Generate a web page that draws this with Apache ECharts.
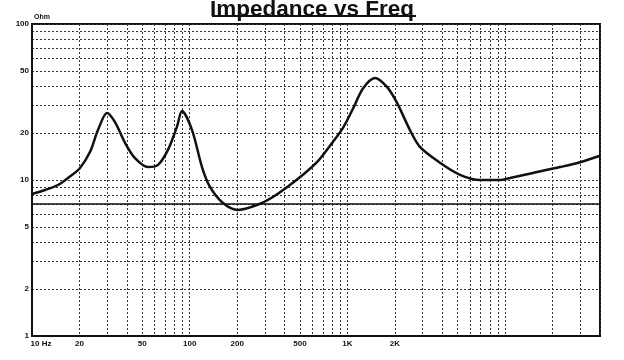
<!DOCTYPE html>
<html><head><meta charset="utf-8">
<script src="https://cdn.jsdelivr.net/npm/echarts@6/dist/echarts.min.js"></script>
<style>html,body{margin:0;padding:0;background:#fff}#c{width:624px;height:360px}</style>
</head><body><div id="c"></div>
<script>
const freqHz = [10,12.1,14.6,16.9,20.1,23.3,26.2,29.9,33.6,38.9,45,54.4,63,72.8,83,89.4,103.5,119.7,134.5,162.6,202,267,337,432,523,641,776,938,1085,1256,1496,1782,2065,2494,2884,3865,5176,6934,9290,10740,15030,22290,29850,40000];
const impedanceOhm = [8.13,8.63,9.29,10.3,11.9,15.1,20.9,26.9,23.5,17.3,13.8,12.1,12.5,15.6,21.9,27.7,20.9,12.1,9.02,7.12,6.42,6.91,7.78,9.29,10.8,13.0,16.6,21.6,28.6,38.6,45.1,39.5,31.2,20.9,16.3,12.9,10.8,10.0,10.0,10.3,11.1,12.1,13.0,14.3];
const xGridValues = [10,20,30,40,50,60,70,80,90,100,200,300,400,500,600,700,800,900,1000,2000,3000,4000,5000,6000,7000,8000,9000,10000,20000,30000,40000];
const xLabelValues = [10,20,50,100,200,500,1000,2000];
const xLabelTexts = ['10 Hz','20','50','100','200','500','1K','2K'];
const yGridValues = [1,2,3,4,5,6,7,8,9,10,20,30,40,50,60,70,80,90,100];
const yLabelValues = [1,2,5,10,20,50,100];
const yLabelTexts = ['1','2','5','10','20','50','100'];
const refLineOhm = 7;

const chart = echarts.init(document.getElementById('c'));
const lbl = (vals, texts) => v => { const i = vals.findIndex(x => Math.abs(x - v) / x < 1e-6); return i < 0 ? '' : texts[i]; };
chart.setOption({
  animation: false,
  backgroundColor: '#fff',
  title: {
    text: 'Impedance vs Freq', left: 'center', top: -7,
    textStyle: { fontFamily: 'Liberation Sans', fontWeight: 'bold', fontSize: 22.5, color: '#111' }
  },
  graphic: [{ type: 'rect', shape: { x: 212, y: 15, width: 204, height: 2 }, style: { fill: '#111' } }],
  grid: { left: 32, right: 24, top: 24, bottom: 24, show: true, borderColor: '#111', borderWidth: 2 },
  xAxis: {
    type: 'log', min: 10, max: 40000,
    axisLine: { show: true, lineStyle: { color: '#111', width: 2 } },
    axisTick: { show: false, customValues: xGridValues },
    splitLine: { show: true, lineStyle: { color: '#333', width: 1, type: [2, 2] } },
    axisLabel: {
      customValues: xLabelValues, fontSize: 8, fontWeight: 'bold', fontFamily: 'Liberation Sans', color: '#111', margin: 4,
      formatter: v => { const t = lbl(xLabelValues, xLabelTexts)(v); return t === '10 Hz' ? '{a|' + t + '}' : t; },
      rich: { a: { padding: [0, 0, 0, 18], fontSize: 8, fontWeight: 'bold', fontFamily: 'Liberation Sans', color: '#111' } }
    }
  },
  yAxis: {
    type: 'log', min: 1, max: 100,
    name: 'Ohm', nameLocation: 'end', nameGap: 3,
    nameTextStyle: { fontSize: 7, fontWeight: 'bold', fontFamily: 'Liberation Sans', color: '#111', align: 'left', padding: [0, 0, 0, 2] },
    axisLine: { show: true, lineStyle: { color: '#111', width: 2 } },
    axisTick: { show: false, customValues: yGridValues },
    splitLine: { show: true, lineStyle: { color: '#333', width: 1, type: [2, 2] } },
    axisLabel: {
      customValues: yLabelValues, fontSize: 8, fontWeight: 'bold', fontFamily: 'Liberation Sans', color: '#111', margin: 3,
      formatter: lbl(yLabelValues, yLabelTexts)
    }
  },
  series: [{
    type: 'line', data: freqHz.map((f, i) => [f, impedanceOhm[i]]),
    smooth: 0.3, showSymbol: false,
    lineStyle: { color: '#111', width: 2.5 },
    markLine: { silent: true, symbol: 'none', label: { show: false },
      lineStyle: { color: '#111', width: 1.5, type: 'solid' }, data: [{ yAxis: refLineOhm }] }
  }]
});
</script></body></html>
